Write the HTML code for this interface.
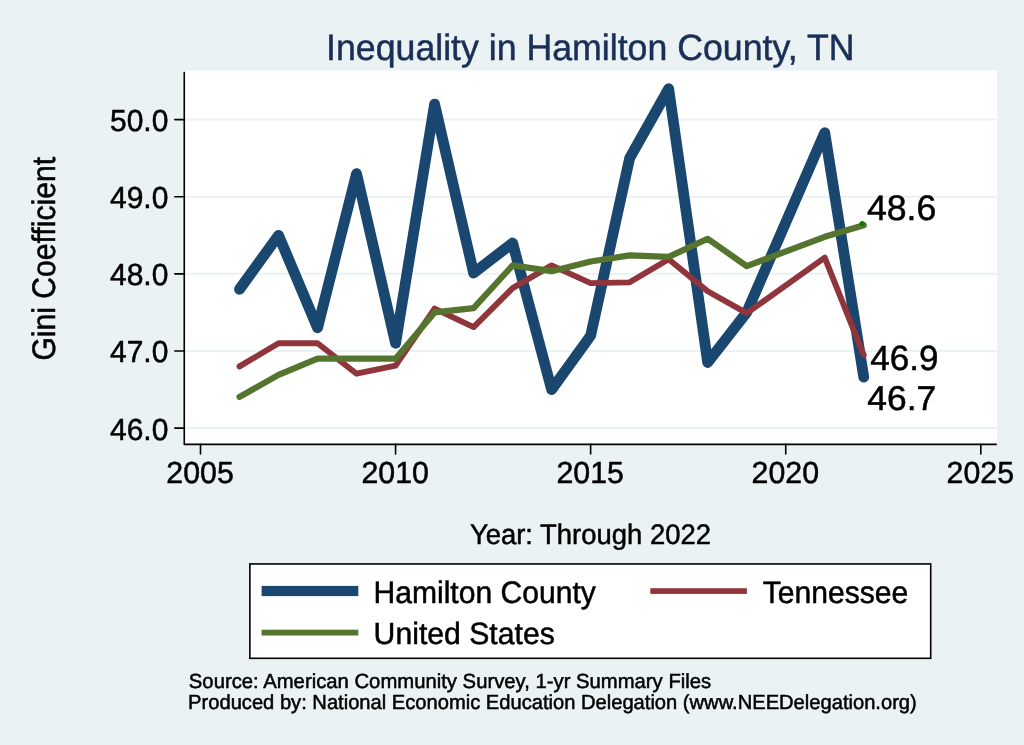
<!DOCTYPE html>
<html><head><meta charset="utf-8"><style>
html,body{margin:0;padding:0;width:1024px;height:745px;overflow:hidden;background:rgb(234,242,243);}
svg{display:block;will-change:transform;}
text{font-family:"Liberation Sans",sans-serif;stroke-width:0.5;text-rendering:geometricPrecision;}
</style></head><body>
<svg width="1024" height="745" viewBox="0 0 1024 745">
<rect x="0" y="0" width="1024" height="745" fill="rgb(234,242,243)"/>
<rect x="185" y="70.5" width="812" height="373.5" fill="#fff"/>
<line x1="185" x2="997" y1="428.10" y2="428.10" stroke="rgb(234,242,243)" stroke-width="2"/>
<line x1="185" x2="997" y1="350.98" y2="350.98" stroke="rgb(234,242,243)" stroke-width="2"/>
<line x1="185" x2="997" y1="273.85" y2="273.85" stroke="rgb(234,242,243)" stroke-width="2"/>
<line x1="185" x2="997" y1="196.73" y2="196.73" stroke="rgb(234,242,243)" stroke-width="2"/>
<line x1="185" x2="997" y1="119.60" y2="119.60" stroke="rgb(234,242,243)" stroke-width="2"/>
<polyline points="239.51,289.28 278.53,235.29 317.55,327.84 356.56,173.59 395.57,343.26 434.59,104.17 473.61,273.08 512.62,243.00 551.63,389.54 590.65,335.55 629.66,158.16 668.68,88.75 707.69,362.54 746.71,312.41 824.74,132.71 863.75,377.20" fill="none" stroke="rgb(26,71,111)" stroke-width="10.8" stroke-linejoin="round" stroke-linecap="round"/>
<polyline points="239.51,366.40 278.53,343.26 317.55,343.26 356.56,373.73 395.57,365.63 434.59,308.56 473.61,327.07 512.62,288.12 551.63,265.37 590.65,283.10 629.66,282.33 668.68,259.20 707.69,291.20 746.71,313.18 824.74,257.65 863.75,355.22" fill="none" stroke="rgb(144,53,59)" stroke-width="5.9" stroke-linejoin="round" stroke-linecap="round"/>
<polyline points="239.51,396.86 278.53,374.88 317.55,358.69 356.56,358.69 395.57,358.69 434.59,312.41 473.61,308.17 512.62,265.37 551.63,271.15 590.65,261.51 629.66,255.34 668.68,256.88 707.69,238.76 746.71,266.14 824.74,236.83 863.75,225.26" fill="none" stroke="rgb(85,117,47)" stroke-width="6.2" stroke-linejoin="round" stroke-linecap="round"/>
<circle cx="862.1" cy="223.5" r="2.5" fill="rgb(0,128,0)"/>
<path d="M184.26,72.5 L184.26,444.4 L996.2,444.4" fill="none" stroke="#000" stroke-width="1.6" stroke-linejoin="round" stroke-linecap="round"/>
<line x1="174.8" x2="184.26" y1="428.10" y2="428.10" stroke="#000" stroke-width="1.6" stroke-linecap="round"/>
<line x1="174.8" x2="184.26" y1="350.98" y2="350.98" stroke="#000" stroke-width="1.6" stroke-linecap="round"/>
<line x1="174.8" x2="184.26" y1="273.85" y2="273.85" stroke="#000" stroke-width="1.6" stroke-linecap="round"/>
<line x1="174.8" x2="184.26" y1="196.73" y2="196.73" stroke="#000" stroke-width="1.6" stroke-linecap="round"/>
<line x1="174.8" x2="184.26" y1="119.60" y2="119.60" stroke="#000" stroke-width="1.6" stroke-linecap="round"/>
<line x1="200.50" x2="200.50" y1="444.4" y2="454" stroke="#000" stroke-width="1.6" stroke-linecap="round"/>
<line x1="395.57" x2="395.57" y1="444.4" y2="454" stroke="#000" stroke-width="1.6" stroke-linecap="round"/>
<line x1="590.65" x2="590.65" y1="444.4" y2="454" stroke="#000" stroke-width="1.6" stroke-linecap="round"/>
<line x1="785.73" x2="785.73" y1="444.4" y2="454" stroke="#000" stroke-width="1.6" stroke-linecap="round"/>
<line x1="980.80" x2="980.80" y1="444.4" y2="454" stroke="#000" stroke-width="1.6" stroke-linecap="round"/>
<text transform="translate(326.06,60.00) scale(0.9746,1)" font-size="36.63" fill="rgb(26,47,87)" stroke="rgb(26,47,87)">Inequality in Hamilton County, TN</text>
<text transform="translate(109.95,439.50) scale(0.9876,1)" font-size="30.37" stroke="#000">46.0</text>
<text transform="translate(109.95,362.38) scale(0.9876,1)" font-size="30.37" stroke="#000">47.0</text>
<text transform="translate(109.95,285.25) scale(0.9876,1)" font-size="30.37" stroke="#000">48.0</text>
<text transform="translate(109.95,208.12) scale(0.9876,1)" font-size="30.37" stroke="#000">49.0</text>
<text transform="translate(109.95,131.00) scale(0.9876,1)" font-size="30.37" stroke="#000">50.0</text>
<text transform="translate(166.32,483.00) scale(0.9946,1)" font-size="30.51" stroke="#000">2005</text>
<text transform="translate(361.40,483.00) scale(0.9946,1)" font-size="30.51" stroke="#000">2010</text>
<text transform="translate(556.47,483.00) scale(0.9946,1)" font-size="30.51" stroke="#000">2015</text>
<text transform="translate(751.55,483.00) scale(0.9946,1)" font-size="30.51" stroke="#000">2020</text>
<text transform="translate(946.62,483.00) scale(0.9946,1)" font-size="30.51" stroke="#000">2025</text>
<text transform="translate(469.95,544.00) scale(0.9703,1)" font-size="28.27" fill="#000" stroke="#000">Year: Through 2022</text>
<text transform="translate(54.8,360.62) rotate(-90) scale(0.9226,1)" font-size="32.65" stroke="#000">Gini Coefficient</text>
<rect x="249.87" y="563.94" width="680.83" height="94.36" fill="#fff" stroke="#000" stroke-width="1.6"/>
<rect x="261.6" y="585.9" width="96.7" height="10.2" fill="rgb(26,71,111)"/>
<rect x="650.3" y="588.2" width="96.6" height="5.7" fill="rgb(144,53,59)"/>
<rect x="261.6" y="629.7" width="96.7" height="5.8" fill="rgb(85,117,47)"/>
<text transform="translate(373.48,603.00) scale(0.9687,1)" font-size="31.05" fill="#000" stroke="#000">Hamilton County</text>
<text transform="translate(762.67,603.00) scale(0.9690,1)" font-size="31.05" fill="#000" stroke="#000">Tennessee</text>
<text transform="translate(373.62,644.00) scale(0.9842,1)" font-size="30.67" fill="#000" stroke="#000">United States</text>
<text transform="translate(188.83,688.00) scale(0.9897,1)" font-size="20.49" fill="#000" stroke="#000">Source: American Community Survey, 1-yr Summary Files</text>
<text transform="translate(188.10,709.00) scale(0.9830,1)" font-size="20.49" fill="#000" stroke="#000">Produced by: National Economic Education Delegation (www.NEEDelegation.org)</text>
<text transform="translate(866.93,220.00) scale(1.0056,1)" font-size="35.45" fill="#000" stroke="#000">48.6</text>
<text transform="translate(870.35,370.00) scale(0.9998,1)" font-size="35.03" fill="#000" stroke="#000">46.9</text>
<text transform="translate(867.34,410.00) scale(1.0271,1)" font-size="34.46" fill="#000" stroke="#000">46.7</text>
</svg>
</body></html>
